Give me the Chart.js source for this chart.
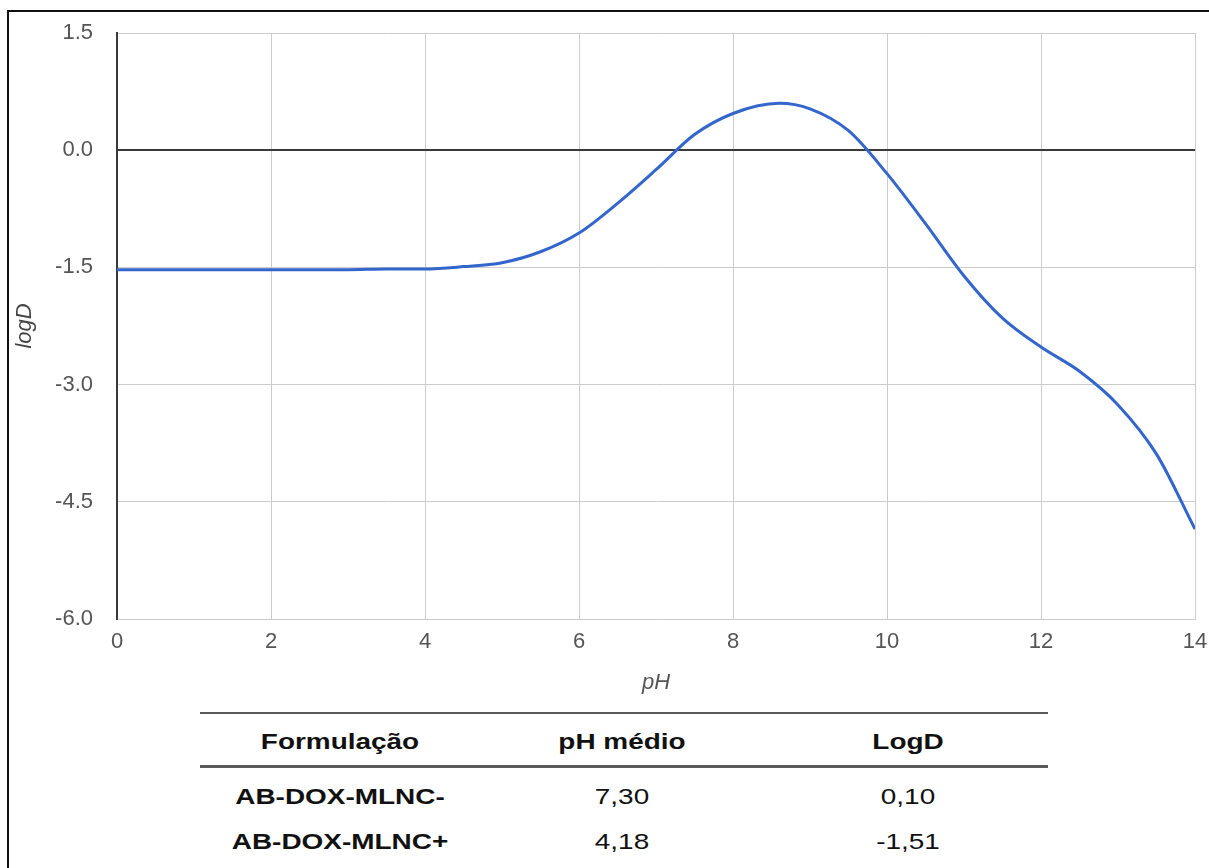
<!DOCTYPE html>
<html>
<head>
<meta charset="utf-8">
<script src="https://cdn.jsdelivr.net/npm/chart.js@4/dist/chart.umd.min.js"></script>
<style>
  html, body { margin:0; padding:0; background:#fff; }
  body { width:1209px; height:868px; position:relative; overflow:hidden; font-family:"Liberation Sans", Arial, sans-serif; }
  #frame { position:absolute; left:7px; top:10px; width:1210px; height:870px; border-top:2px solid #111; border-left:2px solid #111; }
  #wrap { position:absolute; left:0; top:0; width:1209px; height:705px; }
  .rule { position:absolute; left:200px; width:848px; background:#5a5a5a; }
  .cell { position:absolute; transform:translate(-50%,-50%) scaleX(1.27); font-size:22px; color:#111; white-space:nowrap; line-height:1; }
  .b { font-weight:bold; }
</style>
</head>
<body>
<div id="frame"></div>
<div id="wrap"><canvas id="c" width="1209" height="705"></canvas></div>
<div class="rule" style="top:712px;height:2px;"></div>
<div class="rule" style="top:765px;height:3px;"></div>
<div id="tbl"></div>
<script>
// ---- data ----
const phValues   = [0, 0.5, 1, 1.5, 2, 2.5, 3, 3.5, 4, 4.5, 5, 5.5, 6, 6.5, 7, 7.5, 8, 8.6, 9, 9.5, 10, 10.5, 11, 11.5, 12, 12.5, 13, 13.5, 14];
const logDValues = [-1.53, -1.53, -1.53, -1.53, -1.53, -1.53, -1.53, -1.52, -1.52, -1.49, -1.44, -1.30, -1.06, -0.68, -0.25, 0.20, 0.47, 0.60, 0.53, 0.25, -0.30, -0.94, -1.61, -2.15, -2.52, -2.83, -3.26, -3.89, -4.85];
const yTicks = [-6.0, -4.5, -3.0, -1.5, 0.0, 1.5];
const xTicks = [0, 2, 4, 6, 8, 10, 12, 14];

const tableHeader = ["Formulação", "pH médio", "LogD"];
const formulations = ["AB-DOX-MLNC-", "AB-DOX-MLNC+"];
const phMedio = ["7,30", "4,18"];
const logDTable = ["0,10", "-1,51"];

// ---- table ----
const colX = [340, 622, 908];
const rowY = [742, 797, 842];
const tbl = document.getElementById('tbl');
function addCell(text, x, y, bold) {
  const d = document.createElement('div');
  d.className = 'cell' + (bold ? ' b' : '');
  d.style.left = x + 'px';
  d.style.top = y + 'px';
  d.textContent = text;
  tbl.appendChild(d);
}
tableHeader.forEach((t, i) => addCell(t, colX[i], rowY[0], true));
formulations.forEach((f, r) => {
  addCell(f, colX[0], rowY[r + 1], true);
  addCell(phMedio[r], colX[1], rowY[r + 1], false);
  addCell(logDTable[r], colX[2], rowY[r + 1], false);
});

// ---- chart ----
const pts = phValues.map((x, i) => ({ x: x, y: logDValues[i] }));
const tickFont = { family: "'Liberation Sans', Arial, sans-serif", size: 22 };
const titleFont = { family: "'Liberation Sans', Arial, sans-serif", size: 22, style: 'italic' };

new Chart(document.getElementById('c'), {
  type: 'line',
  data: {
    datasets: [{
      data: pts,
      borderColor: '#3366cc',
      borderWidth: 3,
      pointRadius: 0,
      cubicInterpolationMode: 'monotone',
      fill: false
    }]
  },
  options: {
    responsive: false,
    devicePixelRatio: 1,
    animation: false,
    plugins: { legend: { display: false }, tooltip: { enabled: false } },
    layout: { padding: { top: 33, right: 14, left: 0, bottom: 0 } },
    scales: {
      x: {
        type: 'linear',
        min: 0, max: 14,
        afterBuildTicks: (s) => { s.ticks = xTicks.map(v => ({ value: v })); },
        afterFit: (s) => { s.height = 86; s.paddingLeft = 0; s.paddingRight = 0; },
        ticks: { color: '#555', font: tickFont, padding: 10, maxRotation: 0 },
        grid: { color: '#cccccc', lineWidth: 1, drawTicks: false },
        border: { color: '#cccccc', width: 1 },
        title: { display: true, text: 'pH', color: '#555', font: titleFont, padding: { top: 0, bottom: 9 } }
      },
      y: {
        type: 'linear',
        min: -6, max: 1.5,
        afterBuildTicks: (s) => { s.ticks = yTicks.map(v => ({ value: v })); },
        afterFit: (s) => { s.width = 117; s.paddingTop = 0; s.paddingBottom = 0; },
        ticks: { color: '#555', font: tickFont, padding: 24, callback: (v) => Number(v).toFixed(1) },
        grid: {
          color: (c) => (c.tick && c.tick.value === 0 ? '#3a3a3a' : '#cccccc'),
          lineWidth: (c) => (c.tick && c.tick.value === 0 ? 2 : 1),
          drawTicks: false
        },
        border: { color: '#3a3a3a', width: 2 },
        title: { display: true, text: 'logD', color: '#444', font: titleFont, padding: { top: 12, bottom: 0 } }
      }
    }
  }
});
</script>
</body>
</html>
